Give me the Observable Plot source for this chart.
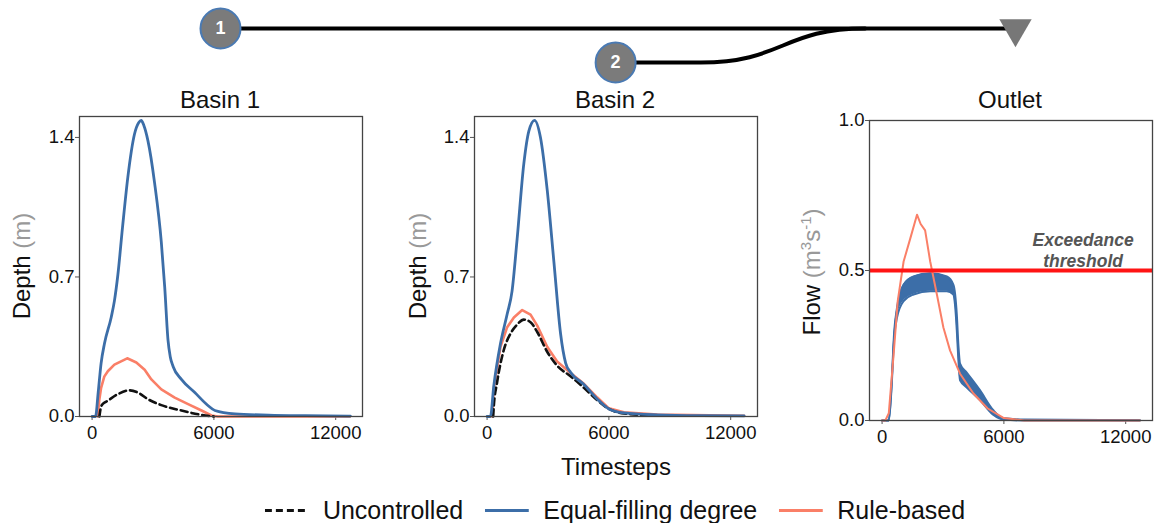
<!DOCTYPE html>
<html>
<head>
<meta charset="utf-8">
<script src="https://cdn.jsdelivr.net/npm/d3@7"></script>
<script src="https://cdn.jsdelivr.net/npm/@observablehq/plot@0.6"></script>
<style>
  html, body { margin: 0; padding: 0; background: #fff; }
  body { width: 1158px; height: 523px; overflow: hidden; position: relative;
         font-family: "Liberation Sans", Arial, Helvetica, sans-serif; color: #111; }
  .abs { position: absolute; }
  .title { position: absolute; transform: translate(-50%, -50%); font-size: 24px; white-space: nowrap; }
  .ylab { position: absolute; transform: translate(-50%, -50%) rotate(-90deg); font-size: 24px; white-space: nowrap; }
  .unit { color: #999; }
  .ylab sup { font-size: 15px; vertical-align: 9px; line-height: 0; }
  #legend { position: absolute; left: 615px; top: 510px; transform: translate(-50%, -50%);
            display: flex; align-items: center; font-size: 25px; white-space: nowrap; }
  .litem { display: flex; align-items: center; margin: 0 11px; }
  .litem svg { margin-right: 14px; }
</style>
</head>
<body>
<div id="schem" class="abs" style="left:0;top:0"></div>
<div id="p1" class="abs" style="left:-1px;top:90px"></div>
<div id="p2" class="abs" style="left:394px;top:90px"></div>
<div id="p3" class="abs" style="left:789px;top:94px"></div>
<div class="title" style="left:220px;top:100px">Basin 1</div>
<div class="title" style="left:615px;top:100px">Basin 2</div>
<div class="title" style="left:1010px;top:100px">Outlet</div>
<div class="ylab" style="left:22px;top:266px">Depth <span class="unit">(m)</span></div>
<div class="ylab" style="left:418px;top:266px">Depth <span class="unit">(m)</span></div>
<div class="ylab" style="left:812px;top:272px">Flow <span class="unit">(m<sup>3</sup>s<sup>-1</sup>)</span></div>
<div class="title" style="left:616px;top:467px">Timesteps</div>
<div id="legend"></div>
<script>
// ---------------- data ----------------
const seriesNames = ["Uncontrolled", "Equal-filling degree", "Rule-based"];
const seriesColors = ["#111111", "#3c6ea8", "#fa7f67"];
const xTicks = [0, 6000, 12000];
const depthTicks = [0, 0.7, 1.4];
const flowTicks = [0, 0.5, 1.0];
const threshold = [0.5];
const thresholdLabel = "Exceedance\nthreshold";

// Basin 1 depth [timestep, metres]
const b1Uncontrolled = [[360,0],[420,0.04],[500,0.06],[775,0.079],[1270,0.112],[1850,0.131],[2260,0.12],[2750,0.087],[3410,0.057],[4400,0.030],[5390,0.008],[6000,0]];
const b1Equal = [[0,0],[170,0],[300,0.12],[445,0.268],[610,0.366],[940,0.497],[1100,0.58],[1270,0.711],[1500,0.95],[1760,1.2],[2090,1.417],[2300,1.475],[2420,1.485],[2550,1.46],[2750,1.384],[3080,1.171],[3410,0.875],[3580,0.645],[3740,0.383],[3850,0.3],[3990,0.251],[4400,0.186],[5060,0.120],[5720,0.054],[6050,0.030],[7040,0.013],[8690,0.007],[10500,0.004],[12720,0.002]];
const b1Rule = [[280,0],[350,0.08],[445,0.144],[600,0.2],[775,0.227],[1100,0.26],[1730,0.292],[2180,0.271],[2590,0.235],[2920,0.186],[3410,0.136],[4070,0.095],[4730,0.062],[5390,0.030],[5880,0.005],[6200,0],[12700,0]];

// Basin 2 depth
const b2Uncontrolled = [[300,0],[330,0.05],[490,0.169],[820,0.333],[1150,0.415],[1480,0.461],[1810,0.486],[2140,0.473],[2470,0.424],[2960,0.325],[3450,0.255],[4110,0.202],[4770,0.144],[5430,0.082],[6000,0.038],[6740,0.015],[8000,0.006]];
const b2Equal = [[0,0],[165,0],[330,0.153],[660,0.366],[990,0.514],[1230,0.629],[1480,0.891],[1810,1.269],[2060,1.433],[2340,1.486],[2630,1.4],[2960,1.138],[3290,0.777],[3620,0.415],[3870,0.268],[4110,0.222],[4770,0.161],[5430,0.087],[6000,0.038],[6740,0.018],[8390,0.008],[10500,0.004],[12660,0.003]];
const b2Rule = [[250,0],[330,0.14],[660,0.35],[990,0.448],[1320,0.497],[1730,0.534],[2140,0.511],[2470,0.456],[2960,0.35],[3450,0.276],[4110,0.218],[4770,0.164],[5430,0.095],[6000,0.041],[6740,0.021],[8390,0.01],[12660,0.004]];

// Outlet flow
const outRule = [[0,0],[160,0],[330,0.024],[570,0.222],[770,0.398],[1060,0.53],[1390,0.607],[1720,0.686],[1900,0.655],[2120,0.634],[2370,0.53],[2700,0.42],[3020,0.31],[3350,0.233],[3840,0.156],[4500,0.09],[5200,0.04],[6000,0.008],[7000,0],[12700,0]];
const outEqualHigh = [[0,0],[330,0],[450,0.1],[600,0.3],[735,0.376],[1060,0.453],[1550,0.48],[2370,0.491],[3190,0.48],[3510,0.453],[3600,0.42],[3680,0.354],[3760,0.25],[3840,0.19],[4170,0.16],[4820,0.101],[5470,0.035],[5960,0.008],[7000,0.003],[12700,0.001]];
const outEqualLow = [[0,0],[330,0],[450,0.09],[600,0.28],[735,0.343],[1060,0.398],[1550,0.42],[2370,0.431],[3190,0.431],[3510,0.42],[3600,0.38],[3680,0.3],[3760,0.2],[3840,0.134],[4170,0.11],[4820,0.068],[5470,0.019],[5960,0.003],[7000,0],[12700,0]];

// Network schematic (position along the main stem, branch row)
const schemNodes = [{id:"1", pos:0, row:0}, {id:"2", pos:0.497, row:1}];
const schemOutlet = [{pos:1, row:0}];
const schemMain = [[0,0],[1,0]];
const schemBranch = [[0.497,1],[0.604,1],[0.811,0]];

// ---------------- helpers ----------------
const FONT = '"Liberation Sans", Arial, Helvetica, sans-serif';
const toObj = arr => arr.map(([t, v]) => ({t, v}));
const xDomain = [-620, 13320];

function panel(marks, yDomain, yTicks) {
  return Plot.plot({
    width: 369, height: 360,
    marginLeft: 80, marginRight: 6, marginTop: 26, marginBottom: 34,
    style: {fontFamily: FONT, fontSize: "18.5px", color: "#111", background: "transparent", overflow: "visible"},
    x: {domain: xDomain},
    y: {domain: yDomain},
    marks: [
      Plot.axisX({ticks: xTicks, tickFormat: d => String(d), tickSize: 4, tickPadding: 5, label: null, stroke: "#555"}),
      Plot.axisY({ticks: yTicks, tickFormat: ".1f", tickSize: 4, tickPadding: 1, label: null, stroke: "#555"}),
      ...marks,
      Plot.frame({stroke: "#444", strokeWidth: 1.3})
    ]
  });
}

function basinMarks(unc, eq, rule) {
  return [
    Plot.line(toObj(rule), {x: "t", y: "v", stroke: seriesColors[2], strokeWidth: 2.6}),
    Plot.line(toObj(unc), {x: "t", y: "v", stroke: seriesColors[0], strokeWidth: 2.6, strokeDasharray: "7,4", curve: "monotone-x"}),
    Plot.line(toObj(eq), {x: "t", y: "v", stroke: seriesColors[1], strokeWidth: 2.8, curve: "monotone-x"})
  ];
}

document.getElementById("p1").append(panel(basinMarks(b1Uncontrolled, b1Equal, b1Rule), [0, 1.505], depthTicks));
document.getElementById("p2").append(panel(basinMarks(b2Uncontrolled, b2Equal, b2Rule), [0, 1.505], depthTicks));

const band = outEqualHigh.map(([t, hi], i) => ({t, hi, lo: outEqualLow[i][1]}));
const outletMarks = [
  Plot.areaY(band, {x: "t", y1: "lo", y2: "hi", fill: seriesColors[1], curve: "monotone-x"}),
  Plot.line(band, {x: "t", y: "hi", stroke: seriesColors[1], strokeWidth: 2, curve: "monotone-x"}),
  Plot.line(band, {x: "t", y: "lo", stroke: seriesColors[1], strokeWidth: 2, curve: "monotone-x"}),
  Plot.line(toObj(outRule), {x: "t", y: "v", stroke: seriesColors[2], strokeWidth: 2}),
  Plot.ruleY(threshold, {stroke: "#ff1414", strokeWidth: 4}),
  Plot.text(threshold, {x: 9900, y: d => d, text: () => thresholdLabel, lineAnchor: "bottom", dy: -4,
    fontSize: 17.5, fontWeight: "bold", fontStyle: "italic", fill: "#555", lineHeight: 1.15})
];
document.getElementById("p3").append(panel(outletMarks, [0, 1.0], flowTicks));

// schematic
const schem = Plot.plot({
  width: 1158, height: 90, margin: 0,
  style: {background: "transparent", overflow: "visible", fontFamily: FONT},
  x: {domain: [0, 1], range: [220, 1015], axis: null},
  y: {domain: [0, 1], range: [28, 62], axis: null},
  marks: [
    Plot.line(schemMain, {x: d => d[0], y: d => d[1], stroke: "#000", strokeWidth: 4}),
    Plot.line(schemBranch, {x: d => d[0], y: d => d[1], stroke: "#000", strokeWidth: 4, curve: "bump-x"}),
    Plot.dot(schemOutlet, {x: "pos", y: "row", symbol: "triangle", rotate: 180, r: 12, fill: "#777", stroke: "none"}),
    Plot.dot(schemNodes, {x: "pos", y: "row", r: 20, fill: "#7b7b7b", stroke: "#4a7ab3", strokeWidth: 2}),
    Plot.text(schemNodes, {x: "pos", y: "row", text: "id", fill: "#fff", fontWeight: "bold", fontSize: 18})
  ]
});
document.getElementById("schem").append(schem);

// legend
const legend = document.getElementById("legend");
seriesNames.forEach((name, i) => {
  const item = document.createElement("div");
  item.className = "litem";
  const dash = i === 0 ? 'stroke-dasharray="7,4"' : "";
  item.innerHTML = `<svg width="44" height="10"><line x1="0" x2="44" y1="5" y2="5" stroke="${seriesColors[i]}" stroke-width="3" ${dash}/></svg><span>${name}</span>`;
  legend.append(item);
});
</script>
</body>
</html>
